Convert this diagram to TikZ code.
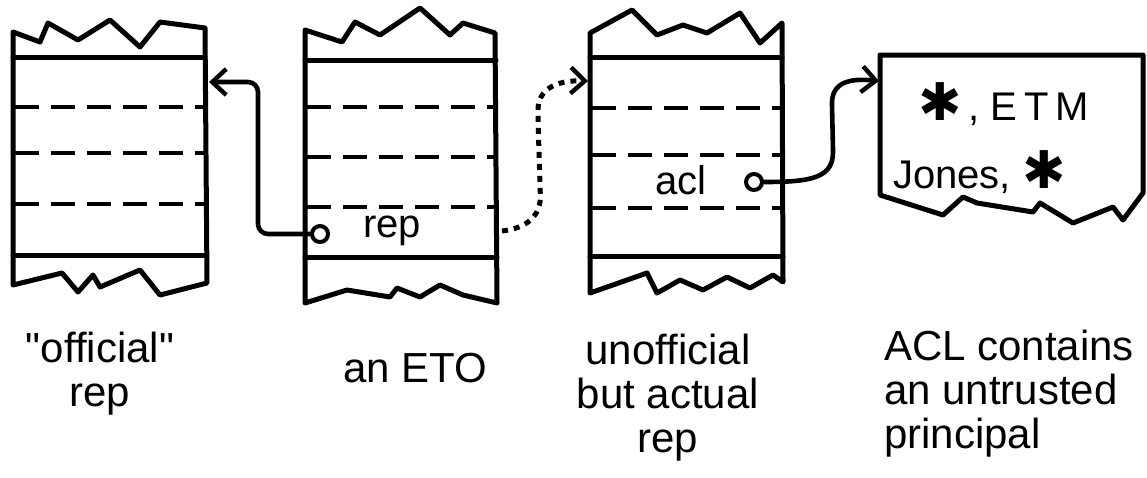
\documentclass[tikz,border=0pt]{standalone}
\usepackage{fontspec}
\setmainfont{Liberation Sans}
\newfontfamily\plainfont{Liberation Sans}
\newfontfamily\symfont{DejaVu Sans}
\usetikzlibrary{arrows.meta}
\begin{document}
\begin{tikzpicture}[x=1pt,y=-1pt,
  ink/.style={line width=5pt, line join=round, line cap=round},
  rowsep/.style={line width=4.8pt, dash pattern=on 24pt off 12pt},
  link/.style={ink, line width=4.6pt, -{Straight Barb[length=14pt,width=26pt,line width=4.4pt]}, rounded corners=10pt},
  dotlink/.style={link, line width=5pt, dash pattern=on 6pt off 6pt, line cap=butt},
  caption/.style={font=\fontsize{42}{44}\selectfont, align=center, inner sep=0pt},
  field/.style={font=\fontsize{40}{44}\selectfont, inner sep=0pt},
  ptr/.style={circle, draw, line width=4pt, minimum size=16pt, inner sep=0pt},
]
\useasboundingbox (0,0) rectangle (1147,477);

% torn record: "official" rep
\draw[ink] (13,32) -- (40,42) -- (48,23) -- (78,40) -- (110,20) -- (140,47) -- (160,22) -- (205,28)
  -- (207,283) -- (160,295) -- (140,270) -- (100,287) -- (93,275) -- (78,292) -- (62,273) -- (13,285) -- cycle;
\draw[ink] (13,57) -- (205,57);
\draw[ink] (13,255) -- (206,255);
\draw[rowsep] (15,107) -- (205,107);
\draw[rowsep] (15,153) -- (205,153);
\draw[rowsep] (15,204) -- (205,204);

% torn record: the ETO
\draw[ink] (305,30) -- (342,42) -- (355,22) -- (380,35) -- (420,8) -- (450,35) -- (463,23) -- (495,33)
  -- (497,303) -- (463,295) -- (440,285) -- (420,297) -- (397,288) -- (390,297) -- (347,290) -- (305,303) -- cycle;
\draw[ink] (305,60) -- (496,60);
\draw[ink] (305,257) -- (497,257);
\draw[rowsep] (307,107) -- (496,107);
\draw[rowsep] (307,157) -- (496,157);
\draw[rowsep] (307,207) -- (496,207);

% torn record: unofficial but actual rep
\draw[ink] (590,33) -- (632,10) -- (657,35) -- (683,25) -- (707,33) -- (740,13) -- (760,43) -- (782,23)
  -- (783,282) -- (773,275) -- (750,288) -- (727,277) -- (703,290) -- (680,280) -- (657,293) -- (647,273) -- (590,293) -- cycle;
\draw[ink] (590,57) -- (782,57);
\draw[ink] (590,256) -- (783,256);
\draw[rowsep] (592,108) -- (782,108);
\draw[rowsep] (592,155) -- (782,155);
\draw[rowsep] (592,208) -- (782,208);

% torn ACL page
\draw[ink] (880,55) -- (1143,55) -- (1143,193) -- (1123,220) -- (1113,207) -- (1073,223) -- (1040,203)
  -- (1033,212) -- (977,203) -- (963,197) -- (943,215) -- (880,195) -- cycle;
\node[field, anchor=west] (aclline1) at (918,104) {{\symfont\fontsize{52}{52}\selectfont ✱}\,, E\,T\,M};
\node[field, anchor=west] (aclline2) at (893,172) {Jones, {\symfont\fontsize{52}{52}\selectfont ✱}};

% fields
\node[ptr] (repdot) at (320,234) {};
\node[field] (repfield) at (392,231) {rep};
\node[ptr] (acldot) at (754,182) {};
\node[field] (aclfield) at (681,180) {acl};

\coordinate (offin) at (209,82);
\coordinate (etoout) at (502,231);
\coordinate (unoffin) at (588,81);
\coordinate (aclin) at (879,81);

% pointers
\draw[link] (repdot.west) -- (258,234) -- (258,82) -- (offin);
\draw[dotlink] (etoout) .. controls (528,228) and (541,215) .. (540,185)
  -- (538,120) .. controls (538,90) and (555,80) .. (unoffin);
\draw[link, rounded corners=0pt] (acldot.east) .. controls (812,182) and (834,178) .. (833,150)
  -- (832,105) .. controls (831,82) and (850,78) .. (aclin);

% captions
\node[caption] (cap1) at (100,374) {{\plainfont"}official{\plainfont"}\\rep};
\node[caption] (cap2) at (415,368) {an ETO};
\node[caption] (cap3) at (668,398) {unofficial\\but actual\\rep};
\node[caption, align=left, anchor=west] (cap4) at (884,394) {ACL contains\\an untrusted\\principal};
\end{tikzpicture}
\end{document}
